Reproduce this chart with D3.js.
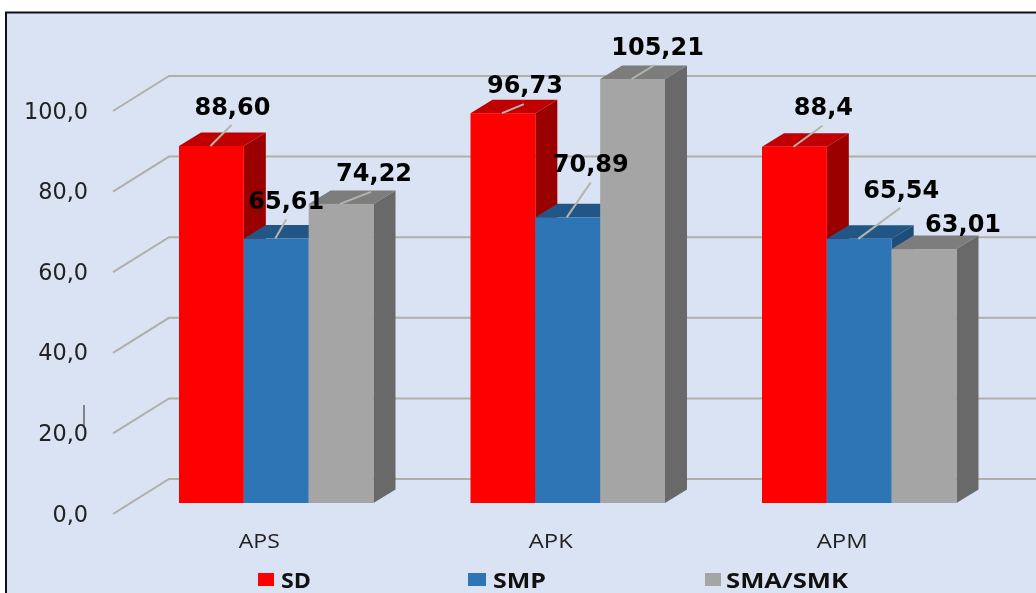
<!DOCTYPE html>
<html><head><meta charset="utf-8">
<script src="https://cdnjs.cloudflare.com/ajax/libs/d3/7.8.5/d3.min.js"></script>
<style>html,body{margin:0;padding:0;background:#fff;overflow:hidden}svg{display:block;filter:blur(0.45px)}</style>
</head><body><svg id="c" width="1036" height="593"></svg>
<script>
const categories = ["APS","APK","APM"];
const seriesNames = ["SD","SMP","SMA/SMK"];
const sdValues = [88.60,96.73,88.40];
const smpValues = [65.61,70.89,65.54];
const smaValues = [74.22,105.21,63.01];
const valueLabels = [["88,60","96,73","88,4"],["65,61","70,89","65,54"],["74,22","105,21","63,01"]];
const yTicks = [0,20,40,60,80,100];

const seriesValues = [sdValues,smpValues,smaValues];
const palette = [
  {front:"#ff0000",top:"#c00000",side:"#9b0000"},
  {front:"#2e75b6",top:"#215686",side:"#1e4d78"},
  {front:"#a5a5a5",top:"#7d7d7d",side:"#696969"}];
// label centre offset from the bar's front-top centre, and leader line ends
const labelOffset = [
  [[21,-37.5],[22,-27],[29,-38.5]],
  [[10,-36.5],[23,-52.5],[42,-47.5]],
  [[33,-29.5],[25,-31],[39,-24.5]]];
const leader = [
  [[-1,0,20,-21],[-1,0,21,-9],[-1,0,28,-21]],
  [[-1,0,10,-19],[-1,0,23,-35],[-1,0,41,-31]],
  [[-1,0,30,-12],[-1,0,22,-14],null]];
const categoryTextWidth = [41,44,51];
const legendTextWidth = [30,53,122];

const svg = d3.select("#c");
const depthX = 22, depthY = -13.5;
const y = d3.scaleLinear().domain([0,100]).range([503,100]);
const x0 = d3.scaleBand().domain(categories).range([130.5,1005]).paddingInner(0.3328).paddingOuter(0.1664);
const x1 = d3.scaleBand().domain(seriesNames).range([0,x0.bandwidth()]);

svg.append("rect").attr("x",6).attr("y",12.5).attr("width",1100).attr("height",700)
  .attr("fill","#dae3f3").attr("stroke","#111").attr("stroke-width",2);

// gridlines
const gridColor = "#b0afa9";
yTicks.forEach(t=>{
  svg.append("path")
    .attr("d",`M113,${y(t)+11}L169,${y(t)-24}L1036,${y(t)-24}`)
    .attr("fill","none").attr("stroke",gridColor).attr("stroke-width",2);
  svg.append("text").attr("x",88).attr("y",y(t)+18.5).attr("text-anchor","end")
    .attr("font-family","DejaVu Sans").attr("font-size",22.4).attr("fill","#222")
    .text(d3.format(".1f")(t).replace(".",","));
});

// bars
const pts = a => a.map(p=>p.join(",")).join(" ");
categories.forEach((c,ci)=>{
  seriesNames.forEach((s,si)=>{
    const v = seriesValues[si][ci], l = x0(c)+x1(s), r = l+x1.bandwidth(), t = y(v), b = y(0), col = palette[si];
    const g = svg.append("g");
    g.append("polygon").attr("fill",col.side)
      .attr("points",pts([[r,t],[r+depthX,t+depthY],[r+depthX,b+depthY],[r,b]]));
    g.append("polygon").attr("fill",col.top)
      .attr("points",pts([[l,t],[l+depthX,t+depthY],[r+depthX,t+depthY],[r,t]]));
    g.append("rect").attr("x",l).attr("y",t).attr("width",r-l).attr("height",b-t).attr("fill",col.front);
  });
});

// labels drawn above all bars
categories.forEach((c,ci)=>{
  seriesNames.forEach((s,si)=>{
    const v = seriesValues[si][ci], cx = x0(c)+x1(s)+x1.bandwidth()/2, t = y(v);
    const ln = leader[si][ci], lo = labelOffset[si][ci];
    if(ln) svg.append("line").attr("x1",cx+ln[0]).attr("y1",t+ln[1]).attr("x2",cx+ln[2]).attr("y2",t+ln[3])
      .attr("stroke","#b5b5ae").attr("stroke-width",2);
    svg.append("text").attr("x",cx+lo[0]).attr("y",t+lo[1]).attr("text-anchor","middle")
      .attr("dominant-baseline","middle")
      .attr("font-family","DejaVu Sans").attr("font-weight","bold").attr("font-size",24).attr("fill","#000")
      .text(valueLabels[si][ci]);
  });
});

// category labels
categories.forEach((c,ci)=>{
  svg.append("text").attr("x",x0(c)+x0.bandwidth()/2-17).attr("y",548).attr("text-anchor","middle")
    .attr("font-family","Open Sans").attr("font-size",20).attr("fill","#222")
    .attr("textLength",categoryTextWidth[ci]).attr("lengthAdjust","spacingAndGlyphs").text(c);
});

// legend
const legendX = d3.scaleOrdinal().domain(seriesNames).range([258,468,705]);
seriesNames.forEach((s,si)=>{
  const lx = legendX(s);
  svg.append("rect").attr("x",lx).attr("y",573).attr("width",si==1?18:16).attr("height",13).attr("fill",palette[si].front);
  svg.append("text").attr("x",lx+(si==2?21:si==1?25:23)).attr("y",587.5)
    .attr("font-family","Open Sans").attr("font-weight","bold").attr("font-size",21).attr("fill","#111")
    .attr("textLength",legendTextWidth[si]).attr("lengthAdjust","spacingAndGlyphs").text(s);
});

// small stray tick on the axis
svg.append("line").attr("x1",84).attr("y1",405).attr("x2",84).attr("y2",428).attr("stroke","#444").attr("stroke-width",1.2);
</script></body></html>
